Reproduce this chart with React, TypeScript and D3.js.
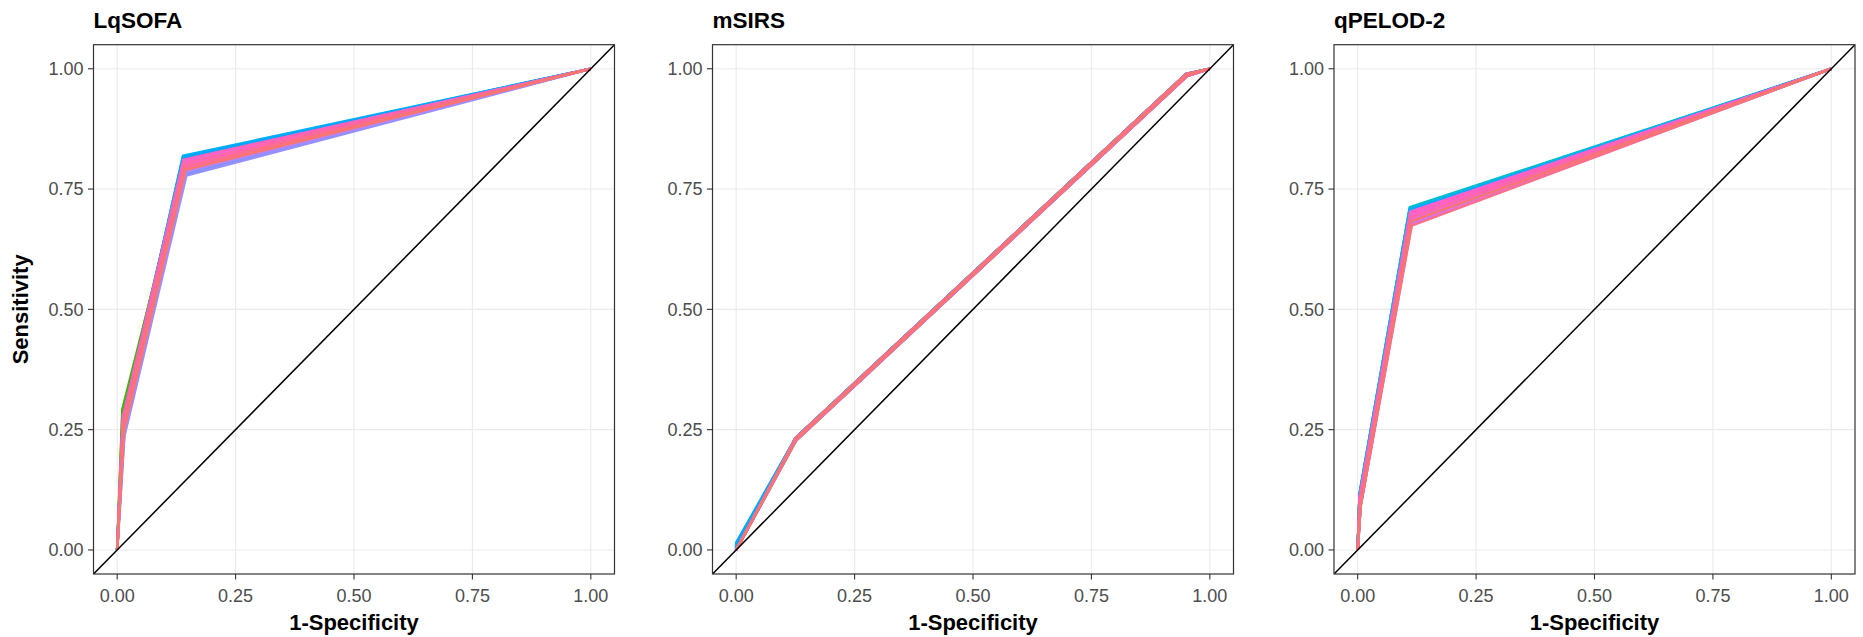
import React from "react";
import * as d3 from "d3";

// ---- data: ROC curves, one per imputed data set (30 per score) ----
const panelTitles = ["LqSOFA", "mSIRS", "qPELOD-2"];
const tickValues = [0, 0.25, 0.5, 0.75, 1];
const tickLabels = ["0.00", "0.25", "0.50", "0.75", "1.00"];

// LqSOFA: (0,0) -> (low) -> (knee) -> (1,1)
const lqsofaLowX = [0.012, 0.013, 0.013, 0.014, 0.014, 0.012, 0.011, 0.012, 0.011, 0.013, 0.013, 0.014, 0.012, 0.012, 0.012, 0.012, 0.012, 0.012, 0.012, 0.015, 0.015, 0.014, 0.013, 0.012, 0.013, 0.014, 0.012, 0.012, 0.013, 0.014];
const lqsofaLowY = [0.268, 0.262, 0.256, 0.252, 0.248, 0.274, 0.280, 0.272, 0.292, 0.261, 0.255, 0.250, 0.266, 0.276, 0.270, 0.268, 0.266, 0.264, 0.270, 0.240, 0.236, 0.244, 0.256, 0.270, 0.262, 0.252, 0.276, 0.266, 0.258, 0.248];
const lqsofaKneeX = [0.141, 0.142, 0.143, 0.143, 0.144, 0.141, 0.140, 0.141, 0.142, 0.142, 0.143, 0.144, 0.142, 0.141, 0.140, 0.140, 0.139, 0.139, 0.140, 0.145, 0.146, 0.145, 0.143, 0.141, 0.142, 0.143, 0.140, 0.142, 0.143, 0.144];
const lqsofaKneeY = [0.805, 0.801, 0.797, 0.793, 0.791, 0.809, 0.812, 0.808, 0.803, 0.800, 0.796, 0.792, 0.804, 0.810, 0.813, 0.815, 0.817, 0.819, 0.816, 0.782, 0.778, 0.786, 0.797, 0.807, 0.800, 0.793, 0.811, 0.804, 0.797, 0.790];

// mSIRS: (0,0) -> (0,start) -> (knee) -> (high) -> (1,1)
const msirsStartY = [0, 0, 0, 0, 0, 0, 0, 0, 0, 0, 0, 0, 0, 0, 0, 0, 0.008, 0.015, 0.012, 0, 0, 0, 0, 0, 0, 0, 0, 0, 0, 0];
const msirsKneeX = [0.126, 0.125, 0.126, 0.127, 0.125, 0.126, 0.126, 0.126, 0.127, 0.126, 0.125, 0.126, 0.126, 0.125, 0.126, 0.126, 0.125, 0.125, 0.125, 0.125, 0.126, 0.127, 0.126, 0.126, 0.126, 0.126, 0.125, 0.126, 0.126, 0.126];
const msirsKneeY = [0.230, 0.232, 0.228, 0.228, 0.232, 0.230, 0.230, 0.230, 0.228, 0.230, 0.232, 0.230, 0.230, 0.232, 0.230, 0.230, 0.232, 0.232, 0.232, 0.232, 0.228, 0.228, 0.228, 0.230, 0.230, 0.230, 0.232, 0.228, 0.232, 0.230];
const msirsHighX = [0.951, 0.950, 0.952, 0.952, 0.950, 0.951, 0.951, 0.951, 0.952, 0.951, 0.950, 0.951, 0.951, 0.950, 0.951, 0.951, 0.950, 0.950, 0.950, 0.950, 0.952, 0.952, 0.952, 0.951, 0.951, 0.951, 0.950, 0.952, 0.950, 0.951];
const msirsHighY = [0.987, 0.989, 0.985, 0.985, 0.989, 0.987, 0.987, 0.987, 0.985, 0.987, 0.989, 0.987, 0.987, 0.989, 0.987, 0.987, 0.989, 0.989, 0.989, 0.989, 0.985, 0.985, 0.985, 0.987, 0.987, 0.987, 0.989, 0.985, 0.989, 0.987];

// qPELOD-2: (0,0) -> (low) -> (knee) -> (1,1)
const qpelodLowX = [0.005, 0.005, 0.005, 0.006, 0.006, 0.004, 0.004, 0.004, 0.005, 0.005, 0.005, 0.006, 0.004, 0.004, 0.004, 0.004, 0.004, 0.004, 0.004, 0.006, 0.006, 0.006, 0.006, 0.005, 0.005, 0.004, 0.004, 0.005, 0.006, 0.006];
const qpelodLowY = [0.104, 0.100, 0.097, 0.095, 0.093, 0.108, 0.111, 0.107, 0.102, 0.099, 0.097, 0.094, 0.113, 0.116, 0.118, 0.115, 0.114, 0.113, 0.112, 0.092, 0.090, 0.091, 0.091, 0.096, 0.102, 0.109, 0.106, 0.098, 0.090, 0.094];
const qpelodKneeX = [0.112, 0.112, 0.112, 0.113, 0.113, 0.111, 0.111, 0.111, 0.112, 0.112, 0.112, 0.113, 0.111, 0.110, 0.110, 0.110, 0.110, 0.111, 0.111, 0.113, 0.114, 0.113, 0.113, 0.113, 0.112, 0.111, 0.111, 0.112, 0.114, 0.113];
const qpelodKneeY = [0.697, 0.693, 0.689, 0.685, 0.681, 0.701, 0.704, 0.700, 0.695, 0.692, 0.688, 0.684, 0.706, 0.710, 0.712, 0.709, 0.708, 0.707, 0.705, 0.680, 0.676, 0.679, 0.679, 0.687, 0.695, 0.703, 0.699, 0.691, 0.674, 0.683];

type Pt = [number, number];

function buildCurves(): Pt[][][] {
  const lq: Pt[][] = lqsofaLowX.map((_, i) => [
    [0, 0],
    [lqsofaLowX[i], lqsofaLowY[i]],
    [lqsofaKneeX[i], lqsofaKneeY[i]],
    [1, 1],
  ]);
  const ms: Pt[][] = msirsKneeX.map((_, i) => [
    [0, 0],
    [0, msirsStartY[i]],
    [msirsKneeX[i], msirsKneeY[i]],
    [msirsHighX[i], msirsHighY[i]],
    [1, 1],
  ]);
  const qp: Pt[][] = qpelodLowX.map((_, i) => [
    [0, 0],
    [qpelodLowX[i], qpelodLowY[i]],
    [qpelodKneeX[i], qpelodKneeY[i]],
    [1, 1],
  ]);
  return [lq, ms, qp];
}

// HCL (polar Luv) to sRGB hex, as used by the usual hue palette
function hueColor(h: number, c = 100, l = 65): string {
  const hr = (h * Math.PI) / 180;
  const u = c * Math.cos(hr);
  const v = c * Math.sin(hr);
  const Y = Math.pow((l + 16) / 116, 3);
  const Xn = 0.95047, Yn = 1.0, Zn = 1.08883;
  const den = Xn + 15 * Yn + 3 * Zn;
  const un = (4 * Xn) / den;
  const vn = (9 * Yn) / den;
  const up = u / (13 * l) + un;
  const vp = v / (13 * l) + vn;
  const X = (Y * 9 * up) / (4 * vp);
  const Z = (Y * (12 - 3 * up - 20 * vp)) / (4 * vp);
  const lin = [
    3.2406 * X - 1.5372 * Y - 0.4986 * Z,
    -0.9689 * X + 1.8758 * Y + 0.0415 * Z,
    0.0557 * X - 0.204 * Y + 1.057 * Z,
  ];
  const gam = lin.map((t) => {
    const cl = Math.max(0, Math.min(1, t));
    const s = cl <= 0.0031308 ? 12.92 * cl : 1.055 * Math.pow(cl, 1 / 2.4) - 0.055;
    return Math.round(Math.max(0, Math.min(1, s)) * 255);
  });
  return d3.rgb(gam[0], gam[1], gam[2]).formatHex();
}

const W = 1863;
const H = 637;
const panelLefts = [93.5, 712.5, 1334];
const panelWidth = 521;
const panelTop = 44.7;
const panelBottom = 574;
const FONT = "'Liberation Sans', Arial, Helvetica, sans-serif";
const HUE_START = 27;

export default function App() {
  const curves = buildCurves();
  const n = lqsofaLowX.length;
  const colors = d3.range(n).map((k) => hueColor(HUE_START + (360 / n) * k));

  return (
    <svg width={W} height={H} style={{ display: "block", position: "absolute", left: 0, top: 0 }} fontFamily={FONT}>
      <rect x={0} y={0} width={W} height={H} fill="#ffffff" />
      {panelLefts.map((left, p) => {
        const x = d3.scaleLinear().domain([-0.05, 1.05]).range([left, left + panelWidth]);
        const y = d3.scaleLinear().domain([-0.05, 1.05]).range([panelBottom, panelTop]);
        const line = d3
          .line<Pt>()
          .x((d) => x(d[0]))
          .y((d) => y(d[1]));
        const clipId = `clip-${p}`;
        const cx = left + panelWidth / 2;
        return (
          <g key={p}>
            <defs>
              <clipPath id={clipId}>
                <rect x={left} y={panelTop} width={panelWidth} height={panelBottom - panelTop} />
              </clipPath>
            </defs>
            {/* grid */}
            {tickValues.map((t) => (
              <g key={`g${t}`}>
                <line x1={x(t)} x2={x(t)} y1={panelTop} y2={panelBottom} stroke="#EBEBEB" strokeWidth={1.1} />
                <line x1={left} x2={left + panelWidth} y1={y(t)} y2={y(t)} stroke="#EBEBEB" strokeWidth={1.1} />
              </g>
            ))}
            {/* ROC curves */}
            <g clipPath={`url(#${clipId})`}>
              {curves[p].map((c, i) => (
                <path
                  key={i}
                  d={line(c) ?? ""}
                  fill="none"
                  stroke={colors[i]}
                  strokeWidth={2.6}
                  strokeLinejoin="round"
                />
              ))}
              {/* reference diagonal */}
              <line x1={x(-0.05)} y1={y(-0.05)} x2={x(1.05)} y2={y(1.05)} stroke="#000000" strokeWidth={1.5} />
            </g>
            {/* panel border */}
            <rect
              x={left}
              y={panelTop}
              width={panelWidth}
              height={panelBottom - panelTop}
              fill="none"
              stroke="#333333"
              strokeWidth={1.2}
            />
            {/* y axis */}
            {tickValues.map((t, i) => (
              <g key={`y${t}`}>
                <line x1={left - 5.5} x2={left} y1={y(t)} y2={y(t)} stroke="#333333" strokeWidth={1.1} />
                <text
                  x={left - 10}
                  y={y(t)}
                  dy="0.35em"
                  textAnchor="end"
                  fontSize={18}
                  fill="#4D4D4D"
                >
                  {tickLabels[i]}
                </text>
              </g>
            ))}
            {/* x axis */}
            {tickValues.map((t, i) => (
              <g key={`x${t}`}>
                <line x1={x(t)} x2={x(t)} y1={panelBottom} y2={panelBottom + 5.5} stroke="#333333" strokeWidth={1.1} />
                <text x={x(t)} y={602} textAnchor="middle" fontSize={18} fill="#4D4D4D">
                  {tickLabels[i]}
                </text>
              </g>
            ))}
            <text x={cx} y={630} textAnchor="middle" fontSize={22} fontWeight="bold" fill="#000000">
              1-Specificity
            </text>
            <text x={left} y={27.5} fontSize={22.5} fontWeight="bold" fill="#000000">
              {panelTitles[p]}
            </text>
          </g>
        );
      })}
      <text
        transform={`translate(28, ${(panelTop + panelBottom) / 2}) rotate(-90)`}
        textAnchor="middle"
        fontSize={22}
        fontWeight="bold"
        fill="#000000"
      >
        Sensitivity
      </text>
    </svg>
  );
}
